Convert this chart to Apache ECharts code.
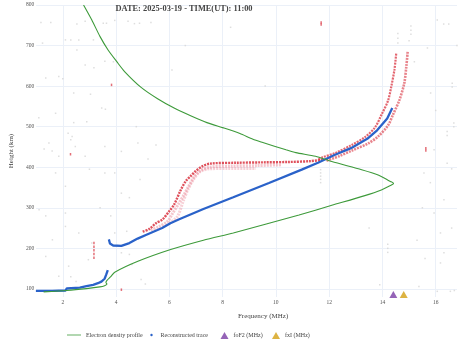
<!DOCTYPE html>
<html><head><meta charset="utf-8">
<script src="https://cdn.jsdelivr.net/npm/echarts@6/dist/echarts.min.js"></script>
<style>html,body{margin:0;padding:0;background:#fff}#c{width:460px;height:347px}</style>
</head><body><div id="c"></div>
<script>
const titleText = 'DATE: 2025-03-19 - TIME(UT): 11:00';
const xTicks = [2,4,6,8,10,12,14,16];
const yTicks = [100,200,300,400,500,600,700,800];
// Electron density profile (plasma frequency MHz, height km)
const profile = [[1.28,92.6],[2.15,96],[2.89,100.7],[3.39,105],[3.57,108],[3.66,112],[3.62,116],[3.66,121],[3.8,130],[3.95,141],[4.82,168],[6.05,197],[7.28,220],[8.4,238],[9.64,260],[10.87,282],[12.1,306],[13.34,330],[13.96,344],[14.3,355],[14.42,360],[14.3,365],[14.21,368],[13.84,381],[13.22,394],[12.1,414],[11.49,427],[10.75,436],[10.38,443],[9.51,461],[9.14,469],[8.65,483],[8.03,497],[7.41,510],[6.8,527],[6.18,546],[5.56,569],[4.94,597],[4.32,636],[4.02,661],[3.7,689],[3.4,722],[3.09,763],[2.78,800]];
// Reconstructed virtual-height trace
const trace = [[0.99,95],[1.6,95],[2.1,96],[2.15,101],[2.64,103],[2.89,107],[3.14,110],[3.32,114],[3.45,118],[3.57,125],[3.63,135],[3.69,146],null,
  [3.73,222],[3.77,212],[3.89,207],[4.2,206],[4.5,213],[4.81,224],[5.12,233],[5.73,250],[6.04,262],[6.35,271],[7.28,297],[8.4,326],[9.74,361],[10.97,394],[11.58,411],[12.2,430],[12.82,447],[13.43,470],[13.8,491],[14.18,520],[14.37,546]];
// Measured echoes (ordinary / extraordinary strands)
const echoA = [[5.0,241],[5.25,248],[5.5,262],[5.74,271],[5.99,291],[6.18,308],[6.43,344],[6.61,365],[6.8,378],[6.98,390],[7.23,402],[7.54,409],[8.5,411],[9.5,412],[10.5,413],[11.3,415],[11.8,419]];
const echoB = [[5.3,245],[5.6,253],[5.93,266],[6.11,285],[6.35,310],[6.55,332],[6.73,354],[6.86,369],[6.98,381],[7.2,393],[7.5,400],[8.3,403],[9.3,404],[10.2,406]];
const echoC = [[6.0,262],[6.3,278],[6.53,318],[6.7,345],[6.9,369],[7.15,389],[7.5,396],[8.2,397],[9.25,397]];
const echoInner = [[11.6,420],[11.73,424],[12.23,435],[12.85,455],[13.34,474],[13.72,498],[13.97,530],[14.21,564],[14.33,598],[14.45,640],[14.52,682]];
const echoOuter = [[11.9,416],[12.4,428],[12.85,441],[13.47,459],[13.84,476],[14.21,503],[14.4,530],[14.64,566],[14.82,607],[14.9,650],[14.95,686]];
const echoBits = [[3.17,177],[3.17,186],[3.17,195],[3.17,204],[3.17,213],[2.29,432],[3.83,603],[11.7,757],[11.7,752],[15.63,441],[15.63,447],[4.2,98]];
const noise = [[1.18,757],[1.55,757],[2.53,753],[2.84,760],[3.52,755],[3.64,755],[3.95,762],[4.45,760],[4.69,754],[4.88,755],[5.31,757],
  [14.58,730],[14.58,718],[14.58,706],[15.07,738],[15.07,748],[15.07,728],[15.0,712],[16.06,763],[16.49,753],[16.3,753],[15.69,694],[16.62,607],[16.62,598],[15.81,583],[16.68,509],[16.68,500],[16.43,488],[16.43,478],[15.94,443],[16.43,410],[16.6,396],[15.56,386],[15.8,362],[16.31,320],[15.94,287],[16.18,238],[16.31,189],[15.6,175],[16.18,164],[15.37,106],[16.06,94],[16.55,94],[16.7,96],[15.5,300],[16.6,250],[15.3,220],[16.0,540],[15.2,660],[16.8,700],
  [1.24,706],[2.1,714],[2.3,714],[2.53,689],[2.6,714],[3.15,714],[3.58,661],[3.9,660],[2.84,652],[1.85,624],[1.36,620],[2.0,618],[3.17,645],[2.41,583],[3.04,580],[3.46,546],[3.6,543],[1.73,533],[1.1,522],[2.41,510],[2.9,512],[1.48,460],[2.35,476],[2.2,484],[2.3,468],[2.47,451],[1.3,445],[1.85,427],[2.84,427],[3.58,451],[4.2,439],[4.76,500],[4.82,460],[3.95,386],[3.58,386],[3.0,395],[1.6,440],[1.73,386],[2.1,353],[4.2,336],[4.5,325],[1.11,295],[1.36,280],[2.1,287],[2.1,254],[2.6,238],[3.95,238],[4.4,242],[1.61,221],[3.09,213],[4.2,189],[4.5,185],[2.96,172],[1.36,180],[2.22,156],[1.85,131],[2.3,130],[2.5,118],[4.94,123],[5.1,112],[4.6,160],[3.4,300],[3.8,280],[4.9,370],[5.2,420],[5.5,455],[6.1,640],[6.6,700],[8.3,745],[9.6,600],
  [11.68,362],[11.68,370],[11.68,378],[11.68,386],[11.68,394],[14.2,190],[14.2,200],[14.2,210],[13.9,110],[13.5,250]];
const foF2 = [[14.41,86]];
const fxI = [[14.8,86]];

const chart = echarts.init(document.getElementById('c'), null, {renderer:'canvas'});
const FONT = 'Liberation Serif';
const gridColor = '#EBF0F8';
const redLine = (data, w, op, col) => ({type:'line', data, showSymbol:false, symbol:'none', smooth:0.3, z:2,
  lineStyle:{width:w, color:col||'#d9323f', opacity:op, type:[2,1]}, silent:true});
const legendBase = {top:327, textStyle:{fontFamily:FONT, fontSize:6, color:'#444'}, selectedMode:false, symbolKeepAspect:true};

chart.setOption({
  animation:false,
  backgroundColor:'#fff',
  textStyle:{fontFamily:FONT},
  title:{text:titleText, left:179, textAlign:'center', top:0,
    textStyle:{fontFamily:FONT, fontWeight:'bold', fontSize:8.4, color:'#444'}},
  grid:{left:30, right:3, top:5, bottom:50, containLabel:false},
  legend:[
    Object.assign({}, legendBase, {left:62, itemWidth:14, itemHeight:7, data:[{name:'Electron density profile', icon:'path://M0,3.1L14,3.1L14,3.9L0,3.9Z', itemStyle:{color:'#3d9a3a'}}]}),
    Object.assign({}, legendBase, {left:145.3, itemWidth:8, itemHeight:2.4, data:[{name:'Reconstructed trace', icon:'circle'}]}),
    Object.assign({}, legendBase, {left:215.5, itemWidth:8, itemHeight:7, data:[{name:'foF2 (MHz)', icon:'triangle'}]}),
    Object.assign({}, legendBase, {left:267, itemWidth:8, itemHeight:7, data:[{name:'fxI (MHz)', icon:'triangle'}]})
  ],
  xAxis:{type:'value', min:1, max:16.8, name:'Frequency (MHz)', nameLocation:'middle', nameGap:16,
    nameTextStyle:{fontFamily:FONT, fontSize:7, color:'#444', padding:[0,0,0,33]},
    axisLine:{show:false}, axisTick:{show:false, customValues:xTicks},
    axisLabel:{customValues:xTicks, fontFamily:FONT, fontSize:5.5, color:'#555', margin:3},
    splitLine:{show:true, lineStyle:{color:gridColor, width:1}}},
  yAxis:{type:'value', min:80, max:800, name:'Height (km)', nameLocation:'middle', nameGap:18,
    nameTextStyle:{fontFamily:FONT, fontSize:7, color:'#444'},
    axisLine:{show:false}, axisTick:{show:false, customValues:yTicks},
    axisLabel:{customValues:yTicks, fontFamily:FONT, fontSize:5.5, color:'#555', margin:2},
    splitLine:{show:true, lineStyle:{color:gridColor, width:1}}},
  series:[
    {type:'scatter', data:noise, symbol:'rect', symbolSize:[1.5,1.5], itemStyle:{color:'#d6d6d6'}, silent:true, z:1},
    redLine(echoC, 3, 0.45, '#ee9aa6'),
    redLine(echoB, 3, 0.5, '#ec8e9c'),
    redLine(echoA, 2.4, 0.85),
    redLine(echoOuter, 2.6, 0.6),
    redLine(echoInner, 2.2, 0.75),
    {type:'scatter', data:echoBits, symbol:'rect', symbolSize:[1.5,2.5], itemStyle:{color:'#d9323f', opacity:0.7}, silent:true, z:2},
    {name:'Reconstructed trace', type:'line', data:trace, showSymbol:false, symbol:'circle', connectNulls:false,
      lineStyle:{width:2.3, color:'#2a62c9'}, itemStyle:{color:'#2a62c9'}, z:3},
    {name:'Electron density profile', type:'line', data:profile, showSymbol:false, symbol:'none', smooth:0.25,
      lineStyle:{width:1.1, color:'#3d9a3a'}, itemStyle:{color:'#3d9a3a'}, z:4},
    {name:'foF2 (MHz)', type:'scatter', data:foF2, symbol:'triangle', symbolSize:[8,7], itemStyle:{color:'#7a3da5'}, clip:false, z:5},
    {name:'fxI (MHz)', type:'scatter', data:fxI, symbol:'triangle', symbolSize:[8,7], itemStyle:{color:'#d4a013'}, clip:false, z:5}
  ]
});
</script></body></html>
